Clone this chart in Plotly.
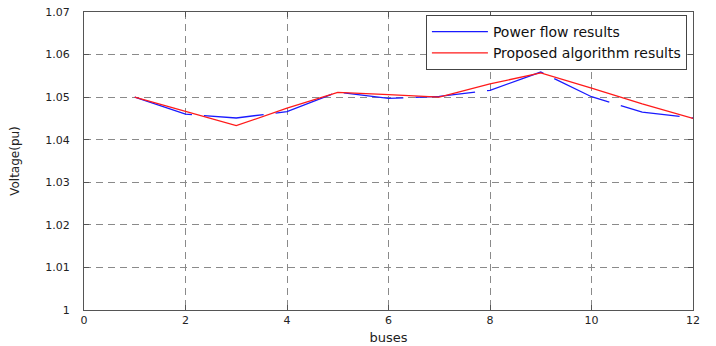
import plotly.graph_objects as go

buses = [1, 2, 3, 4, 5, 6, 7, 8, 9, 10, 11, 12]
power_flow = [1.0500, 1.0460, 1.0451, 1.0466, 1.0512, 1.0497, 1.0502, 1.0516, 1.0559, 1.0501, 1.0465, 1.0451]
proposed = [1.0500, 1.0467, 1.0433, 1.0474, 1.0511, 1.0506, 1.0500, 1.0531, 1.0557, 1.0521, 1.0484, 1.0450]
x_ticks = [0, 2, 4, 6, 8, 10, 12]
y_ticks = [1.00, 1.01, 1.02, 1.03, 1.04, 1.05, 1.06, 1.07]

FONT = "DejaVu Sans, Arial, sans-serif"

fig = go.Figure()
fig.add_trace(go.Scatter(x=buses, y=power_flow, mode="lines", name="Power flow results",
                         line=dict(color="#1a1aff", width=1.3, dash="60px,12px")))
fig.add_trace(go.Scatter(x=buses, y=proposed, mode="lines", name="Proposed algorithm results",
                         line=dict(color="#ff1a1a", width=1.3)))

axis_common = dict(showline=True, linecolor="#555555", linewidth=1, mirror="ticks",
                   ticks="inside", ticklen=5, tickcolor="#555555",
                   showgrid=True, gridcolor="#8a8a8a", griddash="7px,5px", gridwidth=1,
                   zeroline=False, automargin=False,
                   tickfont=dict(family=FONT, size=11, color="#222222"))

fig.update_xaxes(range=[0, 12], tickvals=x_ticks, **axis_common,
                 title=dict(text="buses", font=dict(family=FONT, size=13, color="#222222"), standoff=6))
fig.update_yaxes(range=[1.0, 1.07], tickvals=y_ticks, ticklabelstandoff=11, **axis_common,
                 title=dict(text="Voltage(pu)", font=dict(family=FONT, size=12, color="#222222"), standoff=23))

fig.update_layout(
    width=716, height=346,
    margin=dict(l=84, r=23, t=12, b=36),
    paper_bgcolor="white", plot_bgcolor="white",
    showlegend=True,
    legend=dict(x=0.99, y=0.99, xanchor="right", yanchor="top",
                bgcolor="white", bordercolor="#444444", borderwidth=1,
                font=dict(family=FONT, size=14, color="#111111"),
                tracegroupgap=0, itemwidth=56),
)

fig.write_html("out.html")
